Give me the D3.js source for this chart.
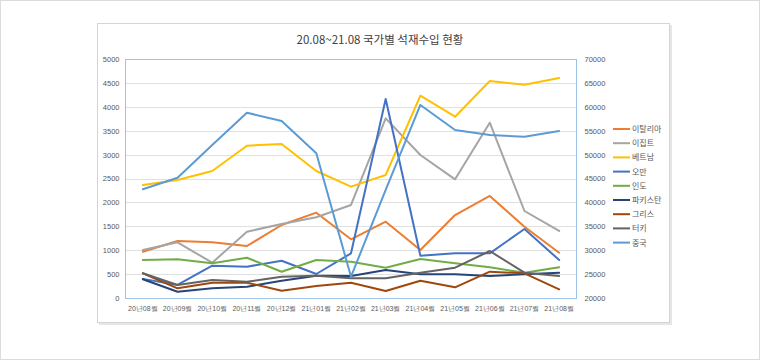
<!DOCTYPE html>
<html><head><meta charset="utf-8">
<script src="https://cdn.jsdelivr.net/npm/d3@7"></script>
<style>
html,body{margin:0;padding:0;background:#fff;}
svg{display:block;font-family:"Noto Sans CJK KR","Noto Sans",sans-serif;}
</style></head>
<body><svg id="c" width="760" height="360"></svg>
<script>
const categories = ["20년08월","20년09월","20년10월","20년11월","20년12월","21년01월","21년02월","21년03월","21년04월","21년05월","21년06월","21년07월","21년08월"];
const leftTicks = [0,500,1000,1500,2000,2500,3000,3500,4000,4500,5000];
const rightTicks = [20000,25000,30000,35000,40000,45000,50000,55000,60000,65000,70000];

const italy    = [969,1192,1165,1088,1527,1785,1228,1596,1004,1736,2134,1492,948];
const egypt    = [1004,1165,738,1387,1548,1688,1946,3759,2992,2483,3667,1820,1402];
const vietnam  = [43640,44690,46570,51860,52220,46570,43290,45730,62320,57930,65400,64620,66020];
const oman     = [400,272,676,655,780,502,935,4163,885,935,935,1443,795];
const india    = [795,810,726,843,550,795,759,634,816,726,642,529,642];
const pakistan = [391,132,203,236,362,466,460,586,496,496,460,496,529];
const greece   = [517,203,320,320,153,251,320,146,362,224,550,517,182];
const turkey   = [517,272,377,341,446,466,412,412,529,634,983,529,460];
const china    = [42740,45170,52010,58760,57030,50270,24460,42600,60380,55150,54100,53740,54940];

const seriesNames = ["이탈리아","이집트","베트남","오만","인도","파키스탄","그리스","터키","중국"];
const seriesData = [italy,egypt,vietnam,oman,india,pakistan,greece,turkey,china];
const seriesAxis = ["L","L","R","L","L","L","L","L","R"];
const seriesColors = ["#ED7D31","#A5A5A5","#FFC000","#4472C4","#70AD47","#264478","#9E480E","#636363","#5B9BD5"];

const svg = d3.select("#c");
svg.append("rect").attr("x",0.5).attr("y",0.5).attr("width",759).attr("height",359)
  .attr("fill","#fff").attr("stroke","#dcdcdc");
svg.append("rect").attr("x",99).attr("y",25).attr("width",573).attr("height",300).attr("fill","#e6e6e6");
svg.append("rect").attr("x",97.5).attr("y",23.5).attr("width",572).attr("height",299)
  .attr("fill","#fff").attr("stroke","#d4d4d4");

const L = 125.5, R = 576.5, T = 59, B = 298;
const x = d3.scaleBand().domain(categories).range([L,R]);
const yL = d3.scaleLinear().domain([0,5000]).range([B,T]);
const yR = d3.scaleLinear().domain([20000,70000]).range([B,T]);

svg.append("text").attr("x",380).attr("y",44).attr("text-anchor","middle")
  .attr("font-size",11.5).attr("fill","#404040").text("20.08~21.08 국가별 석재수입 현황");

svg.append("g").selectAll("line").data(leftTicks.slice(1)).join("line")
  .attr("x1",L).attr("x2",R).attr("y1",d=>Math.round(yL(d))+0.5).attr("y2",d=>Math.round(yL(d))+0.5)
  .attr("stroke","#e0e0e0").attr("stroke-width",1);

const gl = svg.append("g").attr("transform",`translate(${L},0)`)
  .call(d3.axisLeft(yL).tickValues(leftTicks).tickSize(0).tickPadding(6).tickFormat(d3.format("d")));
gl.select(".domain").remove();
gl.selectAll("text").attr("font-size",7.5).attr("fill","#595959").attr("font-family","'Liberation Sans',sans-serif");

const gr = svg.append("g").attr("transform",`translate(${R},0)`)
  .call(d3.axisRight(yR).tickValues(rightTicks).tickSize(0).tickPadding(8).tickFormat(d3.format("d")));
gr.select(".domain").remove();
gr.selectAll("text").attr("font-size",7.5).attr("fill","#595959").attr("font-family","'Liberation Sans',sans-serif");

const gb = svg.append("g").attr("transform",`translate(0,${B})`)
  .call(d3.axisBottom(x).tickSize(0).tickPadding(8));
gb.select(".domain").remove();
gb.selectAll("text").attr("font-size",7).attr("fill","#595959");

svg.append("line").attr("x1",L).attr("x2",R).attr("y1",B+0.5).attr("y2",B+0.5).attr("stroke","#d0d0d0");

const cx = d => x(d) + x.bandwidth()/2;
seriesData.forEach((vals,i)=>{
  const ys = seriesAxis[i]==="L" ? yL : yR;
  const line = d3.line().x((v,j)=>cx(categories[j])).y(v=>ys(v));
  svg.append("path").datum(vals).attr("d",line).attr("fill","none")
    .attr("stroke",seriesColors[i]).attr("stroke-width",2).attr("stroke-linejoin","round").attr("stroke-linecap","round");
});

svg.append("rect").attr("x",L).attr("y",T+0.5).attr("width",R-L).attr("height",B-T)
  .attr("fill","none").attr("stroke","#9DC3E6").attr("stroke-width",1);

const lg = svg.append("g");
seriesNames.forEach((n,i)=>{
  const yy = 129 + i*14.2;
  lg.append("line").attr("x1",613).attr("x2",630).attr("y1",yy).attr("y2",yy)
    .attr("stroke",seriesColors[i]).attr("stroke-width",2);
  lg.append("text").attr("x",632).attr("y",yy+3).attr("font-size",8).attr("fill","#595959").text(n);
});
</script></body></html>
